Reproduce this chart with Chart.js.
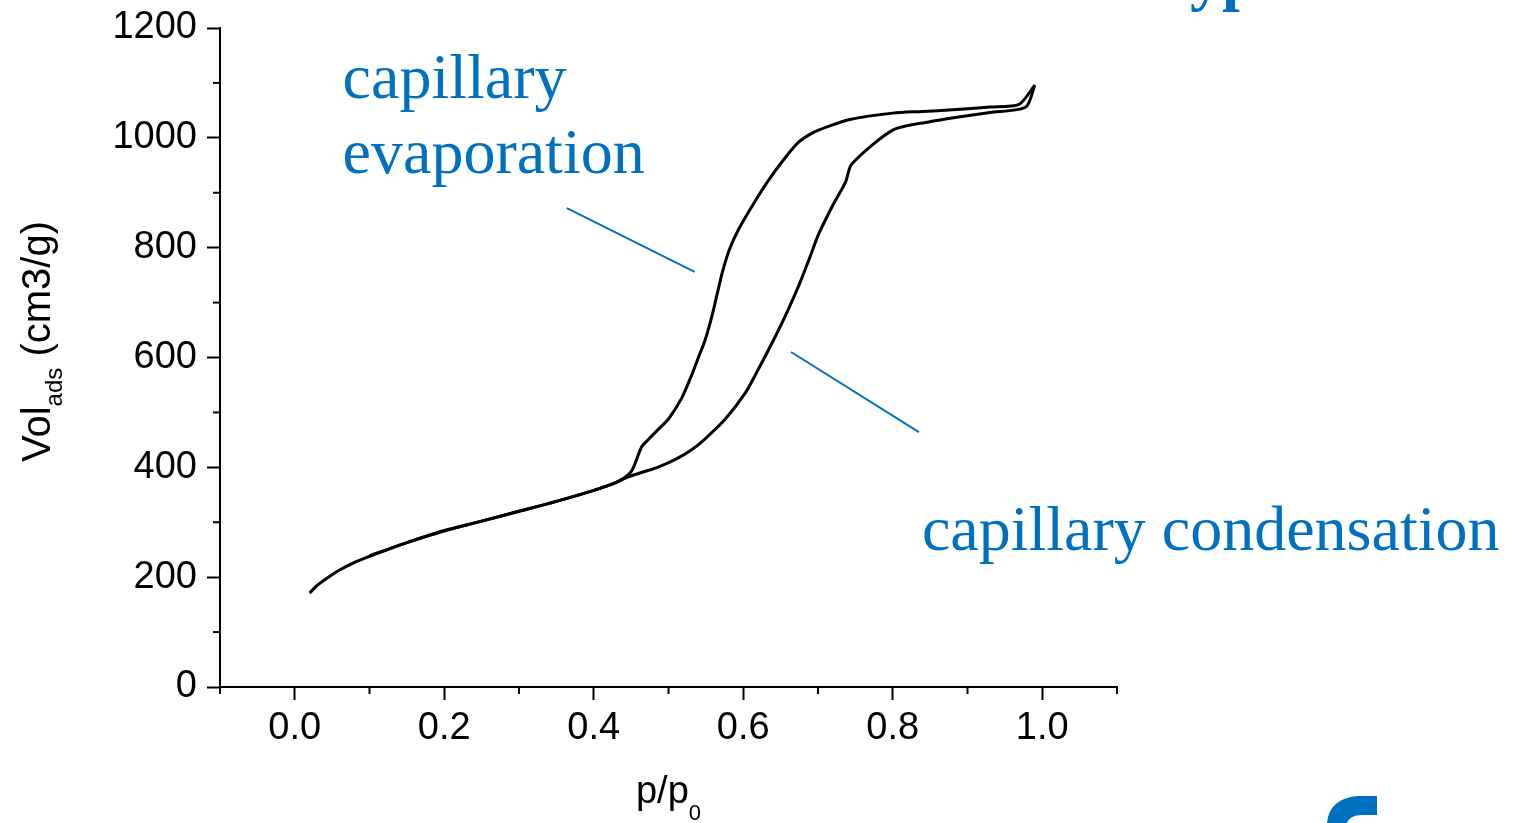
<!DOCTYPE html>
<html lang="en">
<head>
<meta charset="UTF-8">
<title>Isotherm hysteresis</title>
<script src="https://cdn.jsdelivr.net/npm/chart.js"></script>
<style>
  body { margin: 0; background: #fff; }
  #wrap { position: relative; width: 1519px; height: 823px; }
</style>
</head>
<body>
<div id="wrap"><canvas id="chart"></canvas></div>
<script>
// adsorption branch (lower curve, going up)
const adsX = [0.02, 0.03, 0.045, 0.06, 0.08, 0.10, 0.15, 0.20, 0.25, 0.30, 0.35, 0.40, 0.431, 0.443, 0.465, 0.487, 0.51, 0.531, 0.549, 0.576, 0.603, 0.62, 0.638, 0.656, 0.674, 0.687, 0.701, 0.719, 0.737, 0.745, 0.80, 0.848, 0.888, 0.93, 0.978, 0.99];
const adsY = [171, 185, 200, 213, 227, 238, 263, 284, 302, 320, 338, 358, 373, 381, 391, 401, 415, 432, 452, 488, 536, 578, 625, 675, 730, 775, 825, 875, 920, 952, 1014, 1029, 1038, 1046, 1056, 1096];

// desorption branch (upper curve, coming down)
const desX = [0.99, 0.969, 0.93, 0.88, 0.84, 0.80, 0.741, 0.714, 0.694, 0.674, 0.654, 0.634, 0.616, 0.594, 0.581, 0.572, 0.565, 0.558, 0.549, 0.54, 0.531, 0.518, 0.50, 0.487, 0.474, 0.464, 0.45, 0.431, 0.40, 0.35, 0.30, 0.25, 0.20, 0.15, 0.10];
const desY = [1096, 1061, 1056, 1051, 1048, 1045, 1033, 1021, 1010, 992, 960, 923, 885, 834, 795, 755, 715, 675, 632, 600, 568, 527, 488, 470, 452, 437, 392, 373, 358, 338, 320, 302, 285, 263, 239];

const xTicks = [-0.1, 0.0, 0.1, 0.2, 0.3, 0.4, 0.5, 0.6, 0.7, 0.8, 0.9, 1.0, 1.1];
const xLabels = ['', '0.0', '', '0.2', '', '0.4', '', '0.6', '', '0.8', '', '1.0', ''];
const yTicks = [0, 100, 200, 300, 400, 500, 600, 700, 800, 900, 1000, 1100, 1200];
const yLabels = ['0', '', '200', '', '400', '', '600', '', '800', '', '1000', '', '1200'];

const BLUE = '#0070C0';

// text notes and their pointer lines, anchored in data units
const notes = [
  { text: 'capillary', x: 0.064, y: 1073 },
  { text: 'evaporation', x: 0.064, y: 936 },
  { text: 'capillary condensation', x: 0.839, y: 249 }
];
const leaders = [
  [0.364, 872, 0.535, 756],
  [0.664, 610, 0.835, 464]
];

function drawParts(ctx, parts, x, y) {
  let cx = x;
  parts.forEach(p => {
    ctx.font = p.size + 'px "Liberation Sans", Arial, sans-serif';
    ctx.fillText(p.t, cx, y + (p.dy || 0));
    cx += ctx.measureText(p.t).width;
  });
  return cx - x;
}
function partsWidth(ctx, parts) {
  let w = 0;
  parts.forEach(p => {
    ctx.font = p.size + 'px "Liberation Sans", Arial, sans-serif';
    w += ctx.measureText(p.t).width;
  });
  return w;
}

const overlay = {
  id: 'overlay',
  afterDraw(chart) {
    const { ctx } = chart;
    const x = chart.scales.x, y = chart.scales.y;
    ctx.save();

    // short (minor) ticks
    ctx.strokeStyle = '#000';
    ctx.lineWidth = 2;
    xTicks.forEach((v, i) => {
      if (xLabels[i] !== '') return;
      const px = x.getPixelForValue(v);
      ctx.beginPath(); ctx.moveTo(px, y.bottom); ctx.lineTo(px, y.bottom + 7); ctx.stroke();
    });
    yTicks.forEach((v, i) => {
      if (yLabels[i] !== '') return;
      const py = y.getPixelForValue(v);
      ctx.beginPath(); ctx.moveTo(x.left, py); ctx.lineTo(x.left - 7, py); ctx.stroke();
    });

    // pointer lines
    ctx.strokeStyle = BLUE;
    ctx.lineWidth = 2;
    leaders.forEach(l => {
      ctx.beginPath();
      ctx.moveTo(x.getPixelForValue(l[0]), y.getPixelForValue(l[1]));
      ctx.lineTo(x.getPixelForValue(l[2]), y.getPixelForValue(l[3]));
      ctx.stroke();
    });

    // notes
    ctx.fillStyle = BLUE;
    ctx.textBaseline = 'alphabetic';
    ctx.textAlign = 'left';
    ctx.font = '64px "Liberation Serif", "Times New Roman", serif';
    notes.forEach(n => ctx.fillText(n.text, x.getPixelForValue(n.x), y.getPixelForValue(n.y)));

    // slide title, mostly above the visible area
    ctx.font = 'bold 64px "Liberation Serif", "Times New Roman", serif';
    ctx.fillText('Type IV', 1152, -2);

    // corner logo fragment
    ctx.beginPath();
    ctx.moveTo(1377, 796);
    ctx.lineTo(1357, 796);
    ctx.quadraticCurveTo(1329, 799, 1327, 823);
    ctx.lineTo(1347, 823);
    ctx.quadraticCurveTo(1350, 815, 1362, 815);
    ctx.lineTo(1377, 815);
    ctx.closePath();
    ctx.fill();

    // axis titles
    ctx.fillStyle = '#000';
    const xt = [{ t: 'p/p', size: 38 }, { t: '0', size: 22, dy: 17 }];
    const cx = (x.left + x.right) / 2;
    drawParts(ctx, xt, cx - partsWidth(ctx, xt) / 2, 803);

    ctx.translate(50, 462);
    ctx.rotate(-Math.PI / 2);
    drawParts(ctx, [{ t: 'Vol', size: 40 }, { t: 'ads', size: 24, dy: 12 }, { t: ' (cm3/g)', size: 40 }], 0, 0);

    ctx.restore();
  }
};

const line = (xs, ys) => xs.map((v, i) => ({ x: v, y: ys[i] }));

new Chart(document.getElementById('chart'), {
  type: 'scatter',
  data: {
    datasets: [
      { label: 'adsorption', data: line(adsX, adsY), showLine: true, borderColor: '#000', borderWidth: 3, pointRadius: 0, tension: 0.25 },
      { label: 'desorption', data: line(desX, desY), showLine: true, borderColor: '#000', borderWidth: 3, pointRadius: 0, tension: 0.25 }
    ]
  },
  options: {
    responsive: true,
    maintainAspectRatio: false,
    animation: false,
    layout: { padding: { left: 0, top: 28, right: 402, bottom: 0 } },
    plugins: { legend: { display: false }, tooltip: { enabled: false } },
    scales: {
      x: {
        type: 'linear',
        min: -0.1,
        max: 1.1,
        afterBuildTicks: s => { s.ticks = xTicks.map(v => ({ value: v })); },
        afterFit: s => { s.height = 136; s.paddingLeft = 0; s.paddingRight = 0; },
        border: { display: true, color: '#000', width: 2 },
        grid: {
          drawOnChartArea: false,
          tickLength: 13,
          tickWidth: 2,
          tickColor: c => (xLabels[c.index] ? '#000' : 'rgba(0,0,0,0)')
        },
        ticks: {
          color: '#000',
          padding: 6,
          maxRotation: 0,
          autoSkip: false,
          font: { family: '"Liberation Sans", Arial, sans-serif', size: 38 },
          callback: (v, i) => xLabels[i]
        }
      },
      y: {
        min: 0,
        max: 1200,
        afterBuildTicks: s => { s.ticks = yTicks.map(v => ({ value: v })); },
        afterFit: s => { s.width = 220; s.paddingTop = 0; s.paddingBottom = 0; },
        border: { display: true, color: '#000', width: 2 },
        grid: {
          drawOnChartArea: false,
          tickLength: 13,
          tickWidth: 2,
          tickColor: c => (yLabels[c.index] ? '#000' : 'rgba(0,0,0,0)')
        },
        ticks: {
          color: '#000',
          padding: 10,
          autoSkip: false,
          font: { family: '"Liberation Sans", Arial, sans-serif', size: 38 },
          callback: (v, i) => yLabels[i]
        }
      }
    }
  },
  plugins: [overlay]
});
</script>
</body>
</html>
